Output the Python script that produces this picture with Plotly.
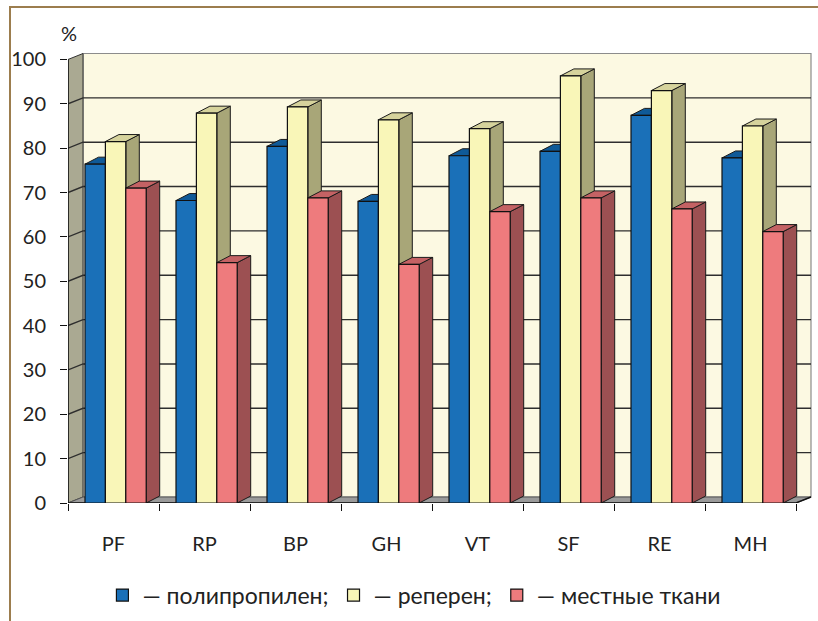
import plotly.graph_objects as go

# --- data -------------------------------------------------------------
categories = ["PF", "RP", "BP", "GH", "VT", "SF", "RE", "MH"]
polypropylene = [76.4, 68.2, 80.4, 68.0, 78.3, 79.3, 87.4, 77.8]
reperen = [81.5, 87.9, 89.3, 86.4, 84.4, 96.3, 93.0, 85.0]
local_tissue = [71.0, 54.2, 68.8, 53.8, 65.7, 68.8, 66.3, 61.2]
series_names = ["— полипропилен;", "— реперен;", "— местные ткани"]
y_ticks = list(range(0, 101, 10))

# --- styling / geometry ------------------------------------------------
W, H = 818, 621
M_L, M_R, M_T, M_B = 68, 5, 53, 117
PX_X = 91.0          # pixels per category
PX_Y = 4.445         # pixels per percent
X_MAX = (W - M_L - M_R) / PX_X
Y_MAX = (H - M_T - M_B) / PX_Y

# depth of the walls and of the columns (pseudo-3D)
WALL_DX, WALL_DY = 15 / PX_X, 6 / PX_Y
BAR_DX, BAR_DY = 13.5 / PX_X, 7 / PX_Y
BAR_START = 17 / PX_X
BAR_W = 20.4 / PX_X

FONT = "Lato"
TXT = "#222222"

front_cols = ["#1a70b8", "#f9f6b8", "#ee7b7d"]
top_cols = ["#0f5a98", "#d6d39c", "#c46264"]
side_cols = ["#0c4f86", "#a8a678", "#9c5052"]

series = [polypropylene, reperen, local_tissue]
n = len(categories)

fig = go.Figure()


def poly(xs, ys, fill, line="#1a1a1a", width=1.0):
    fig.add_trace(go.Scatter(
        x=xs, y=ys, mode="lines", fill="toself", fillcolor=fill,
        line=dict(color=line, width=width), hoverinfo="skip",
        showlegend=False))


# back wall, side wall and floor
poly([WALL_DX, n + WALL_DX, n + WALL_DX, WALL_DX, WALL_DX],
     [WALL_DY, WALL_DY, 100 + WALL_DY, 100 + WALL_DY, WALL_DY],
     "#fcf9e2", line="#8c8c8c", width=1.2)
poly([0, 0, WALL_DX, WALL_DX, 0], [0, 100, 100 + WALL_DY, WALL_DY, 0],
     "#aaa992", line="#333333", width=1)
poly([0, n, n + WALL_DX, WALL_DX, 0], [0, 0, WALL_DY, WALL_DY, 0],
     "#9a9a9a", line="#555555", width=1)

# gridlines on the back wall and their continuation on the side wall
gx, gy = [], []
for v in y_ticks[1:-1]:
    gx += [0, WALL_DX, n + WALL_DX, None]
    gy += [v, v + WALL_DY, v + WALL_DY, None]
fig.add_trace(go.Scatter(x=gx, y=gy, mode="lines",
                         line=dict(color="#2e2e2e", width=1.4),
                         hoverinfo="skip", showlegend=False))

# top and side faces of the columns
for s, vals in enumerate(series):
    tx, ty, sx, sy = [], [], [], []
    for i, v in enumerate(vals):
        x0 = i + BAR_START + s * BAR_W
        x1 = x0 + BAR_W
        tx += [x0, x1, x1 + BAR_DX, x0 + BAR_DX, x0, None]
        ty += [v, v, v + BAR_DY, v + BAR_DY, v, None]
        sx += [x1, x1, x1 + BAR_DX, x1 + BAR_DX, x1, None]
        sy += [0, v, v + BAR_DY, BAR_DY, 0, None]
    poly(sx, sy, side_cols[s])
    poly(tx, ty, top_cols[s])

# front axis lines
fig.add_trace(go.Scatter(x=[0, 0, None, 0, n, n + WALL_DX],
                         y=[0, 100, None, 0, 0, WALL_DY], mode="lines",
                         line=dict(color="#111111", width=1.4),
                         hoverinfo="skip", showlegend=False))

# column front faces (overlay axes so they sit above the faces above)
for s, vals in enumerate(series):
    fig.add_trace(go.Bar(
        x=[i + BAR_START + (s + 0.5) * BAR_W for i in range(n)], y=vals,
        width=BAR_W, name=series_names[s], xaxis="x2", yaxis="y2",
        marker=dict(color=front_cols[s], line=dict(color="#111111", width=1.2)),
    ))

axis_common = dict(showgrid=False, zeroline=False, showline=False)
fig.update_layout(
    width=W, height=H, autosize=False,
    margin=dict(l=M_L, r=M_R, t=M_T, b=M_B),
    paper_bgcolor="white", plot_bgcolor="rgba(0,0,0,0)",
    barmode="overlay",
    font=dict(family=FONT, size=20, color=TXT),
    xaxis=dict(range=[0, X_MAX], tickmode="array",
               tickvals=[i + 0.5 for i in range(n)], ticktext=categories,
               ticks="", ticklabelstandoff=27,
               minor=dict(ticks="outside", ticklen=7, tickcolor="#111111",
                          tickwidth=1.4, tickmode="array",
                          tickvals=list(range(n + 1)), showgrid=False),
               **axis_common),
    yaxis=dict(range=[0, Y_MAX], tickmode="array", tickvals=y_ticks,
               ticks="outside", ticklen=7, tickcolor="#111111", tickwidth=1.4,
               ticklabelstandoff=10, **axis_common),
    xaxis2=dict(range=[0, X_MAX], overlaying="x", visible=False),
    yaxis2=dict(range=[0, Y_MAX], overlaying="y", visible=False),
    legend=dict(orientation="h", x=0.465, xanchor="center", y=-0.202,
                yanchor="middle", font=dict(size=23, color=TXT),
                bgcolor="rgba(0,0,0,0)"),
    annotations=[dict(text="%", x=(69 - M_L) / (W - M_L - M_R), xref="paper",
                      y=(504 - 33) / (H - M_T - M_B), yref="paper",
                      xanchor="center", yanchor="middle",
                      showarrow=False, font=dict(size=20, color=TXT))],
    shapes=[dict(type="rect", xref="paper", yref="paper",
                 x0=(10 - M_L) / (W - M_L - M_R), x1=1.2,
                 y0=-0.4, y1=(504 - 7) / (H - M_T - M_B),
                 line=dict(color="#9c7d4e", width=2), layer="below")],
)

fig.write_html("out.html")
